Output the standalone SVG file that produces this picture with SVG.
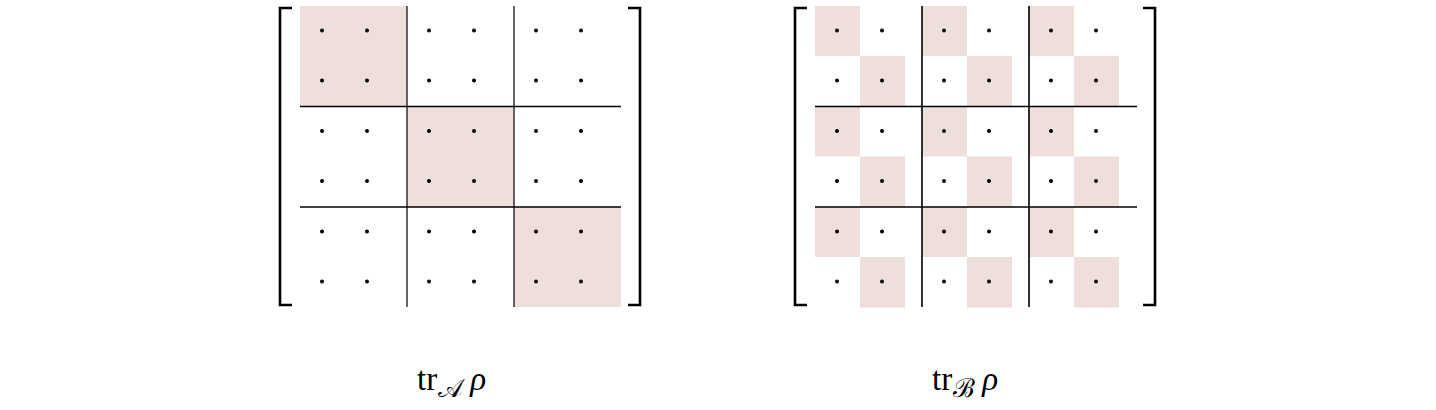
<svg xmlns="http://www.w3.org/2000/svg" width="1436" height="410" viewBox="0 0 1436 410">
<style>
.sh{fill:#eedfdb}
.sep{stroke:#000;stroke-width:1.2;fill:none}
.hsep{stroke:#000;stroke-width:1.6;fill:none}
.br{stroke:#000;stroke-width:2.6;fill:none}
.lbl{font-family:"Liberation Serif","DejaVu Serif",serif;font-size:33px;fill:#000}
.sub{font-family:"DejaVu Serif","Liberation Serif",serif;font-size:26px}
.it{font-style:italic}
</style>
<defs>
<g id="dots"><circle cx="22" cy="24.5" r="2"/><circle cx="67" cy="24.5" r="2"/><circle cx="22" cy="74.5" r="2"/><circle cx="67" cy="74.5" r="2"/></g>
<g id="chk"><rect class="sh" x="0" y="0" width="45" height="50"/><rect class="sh" x="45" y="50" width="45" height="50.5"/></g>
</defs>
<g id="matrixA">
<rect class="sh" x="300" y="6" width="107" height="100.5"/>
<rect class="sh" x="407" y="106.5" width="107" height="100.5"/>
<rect class="sh" x="514" y="207" width="107" height="100"/>
<g fill="#000">
<use href="#dots" x="300" y="6"/><use href="#dots" x="407" y="6"/><use href="#dots" x="514" y="6"/>
<use href="#dots" x="300" y="106.5"/><use href="#dots" x="407" y="106.5"/><use href="#dots" x="514" y="106.5"/>
<use href="#dots" x="300" y="207"/><use href="#dots" x="407" y="207"/><use href="#dots" x="514" y="207"/>
</g>
<path class="sep" d="M407,6V307M514,6V307"/>
<path class="hsep" d="M300,106.5H621M300,207H621"/>
<path class="br" d="M292,8H280V305H292M628,8H640V305H628"/>
</g>
<g id="matrixB">
<use href="#chk" x="815" y="6"/><use href="#chk" x="922" y="6"/><use href="#chk" x="1029" y="6"/>
<use href="#chk" x="815" y="106.5"/><use href="#chk" x="922" y="106.5"/><use href="#chk" x="1029" y="106.5"/>
<use href="#chk" x="815" y="207"/><use href="#chk" x="922" y="207"/><use href="#chk" x="1029" y="207"/>
<g fill="#000">
<use href="#dots" x="815" y="6"/><use href="#dots" x="922" y="6"/><use href="#dots" x="1029" y="6"/>
<use href="#dots" x="815" y="106.5"/><use href="#dots" x="922" y="106.5"/><use href="#dots" x="1029" y="106.5"/>
<use href="#dots" x="815" y="207"/><use href="#dots" x="922" y="207"/><use href="#dots" x="1029" y="207"/>
</g>
<path class="hsep" d="M922,6V307M1029,6V307"/>
<path class="hsep" d="M815,106.5H1137M815,207H1137"/>
<path class="br" d="M807,8H795V305H807M1143,8H1155V305H1143"/>
</g>
<g id="labelA"><text class="lbl" x="417" y="390">tr<tspan class="sub" dx="1" dy="7">𝒜</tspan><tspan class="it" dx="7" dy="-7">ρ</tspan></text></g>
<g id="labelB"><text class="lbl" x="932" y="390">tr<tspan class="sub" dx="1" dy="7">ℬ</tspan><tspan class="it" dx="7" dy="-7">ρ</tspan></text></g>
</svg>
